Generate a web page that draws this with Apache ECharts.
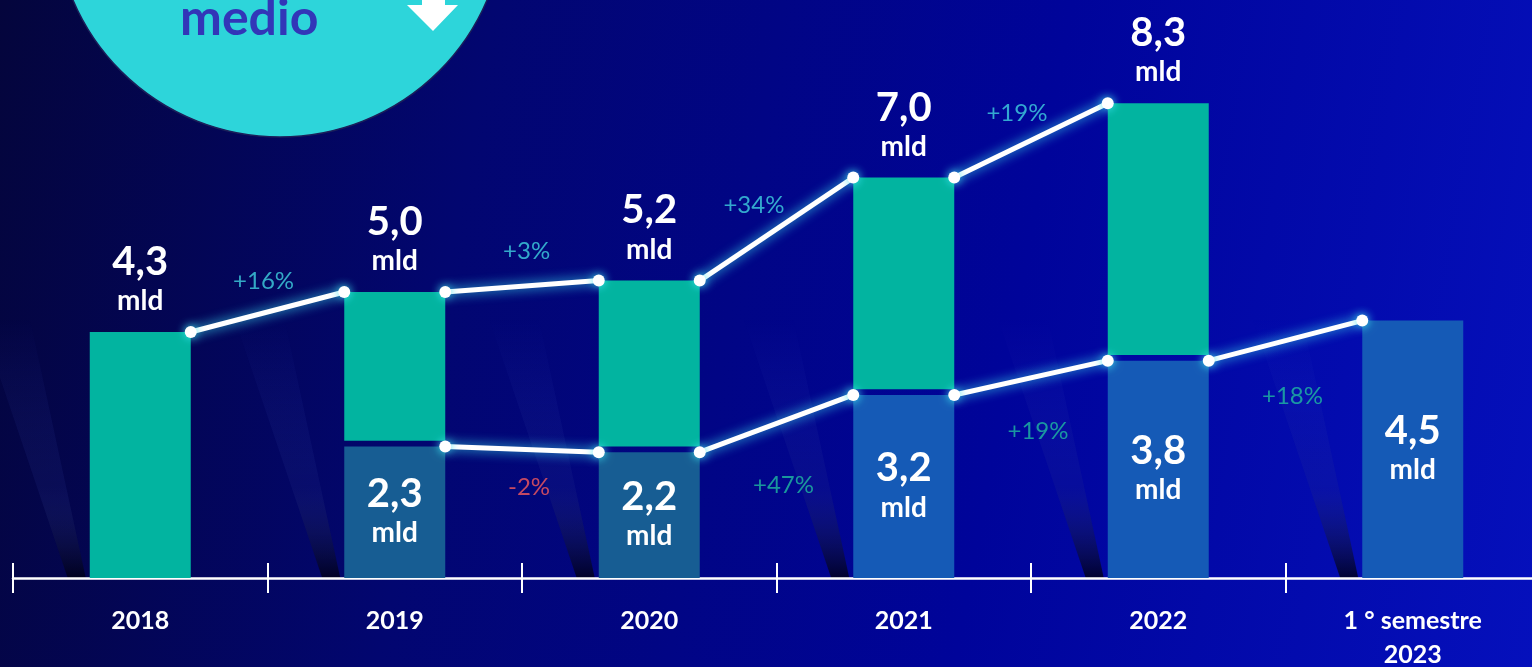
<!DOCTYPE html>
<html>
<head>
<meta charset="utf-8">
<script src="https://cdn.jsdelivr.net/npm/echarts@6/dist/echarts.min.js"></script>
<style>
  html, body { margin: 0; padding: 0; }
  #chart {
    width: 1532px; height: 667px;
    background: linear-gradient(100deg, #04053c 0%, #020670 30%, #00049a 65%, #0510bc 100%);
  }
</style>
</head>
<body>
<div id="chart"></div>
<script>
  // data
  const categories = ['2018', '2019', '2020', '2021', '2022', '1 ° semestre\n2023']
  const annualValues = [4.3, 5.0, 5.2, 7.0, 8.3, null]
  const halfYearValues = [null, 2.3, 2.2, 3.2, 3.8, 4.5]
  const annualGrowth = ['+16%', '+3%', '+34%', '+19%']
  const halfYearGrowth = ['-2%', '+47%', '+19%', '+18%']

  const W = 1532, H = 667
  const gridLeft = 13, gridRight = -8, gridTop = 6, gridBottom = 89
  const barW = 101
  const catW = (W - gridLeft - gridRight) / categories.length
  const hw = barW / 2 / catW
  const gap = 0.1
  const font = 'Lato, "Open Sans", sans-serif'

  const fmt = v => v.toFixed(1).replace('.', ',')
  const valueLabel = v => '{v|' + fmt(v) + '}\n{u|mld}'
  const richText = {
    v: { fontSize: 40, fontWeight: 'bold', color: '#fff', lineHeight: 42, fontFamily: font },
    u: { fontSize: 28, fontWeight: 'bold', color: '#fff', lineHeight: 36, fontFamily: font }
  }

  const chart = echarts.init(document.getElementById('chart'))

  // line segments between bar edges
  const segments = []
  const growthPoints = []
  function addLine(values, growth, first, upper) {
    for (let k = 0; k < growth.length; k++) {
      const i = first + k
      const a = values[i], b = values[i + 1]
      segments.push({
        type: 'line', xAxisIndex: 1, yAxisIndex: 0, z: 5,
        data: [[i + hw, a], [i + 1 - hw, b]],
        symbol: 'circle', symbolSize: 12,
        itemStyle: { color: '#fff', shadowBlur: 10, shadowColor: '#3fe6f2' },
        lineStyle: { color: '#fff', width: 5, shadowBlur: 12, shadowColor: '#38d8ec' },
        animation: false
      })
      const slope = b - a
      const neg = growth[k].charAt(0) === '-'
      growthPoints.push({
        value: [i + 0.5, (a + b) / 2],
        label: {
          show: true,
          formatter: growth[k],
          position: upper ? 'top' : 'bottom',
          distance: upper ? 20 : 28 + 22 * slope,
          offset: upper ? [8 - 17 * slope, 7 * slope - 4] : [7, 0],
          color: upper ? '#40d2e0' : (neg ? '#f65a5c' : '#1fbca0'),
          fontSize: 24,
          fontFamily: font
        }
      })
    }
  }
  addLine(annualValues, annualGrowth, 0, true)
  addLine(halfYearValues, halfYearGrowth, 1, false)

  const blueColors = ['#175d93', '#175d93', '#175d93', '#155ab6', '#155ab6', '#155ab6']

  // light beams behind bars
  const beams = categories.map((c, i) => {
    const bx = gridLeft + catW * (i + 0.5) - barW / 2
    const by = H - gridBottom
    return {
      type: 'polygon', z: -1, silent: true,
      shape: { points: [[bx - 22, by], [bx - 4, by], [bx - 60, by - 260], [bx - 110, by - 260]] },
      style: {
        fill: new echarts.graphic.LinearGradient(0, 1, 0, 0, [
          { offset: 0, color: 'rgba(0,0,20,0.8)' },
          { offset: 0.35, color: 'rgba(40,50,140,0.18)' },
          { offset: 1, color: 'rgba(80,100,220,0)' }
        ])
      }
    }
  })

  chart.setOption({
    backgroundColor: 'transparent',
    animation: false,
    grid: {
      left: gridLeft, right: gridRight, top: gridTop, bottom: gridBottom,
      containLabel: false, outerBoundsMode: 'none'
    },
    xAxis: [
      {
        type: 'category', data: categories,
        axisLine: { lineStyle: { color: '#fff', width: 2.5 } },
        axisTick: { show: true, length: 15, lineStyle: { color: '#fff', width: 2 } },
        axisLabel: {
          color: '#fff', fontWeight: 'bold', fontSize: 25, fontFamily: font,
          margin: 26, lineHeight: 34
        }
      },
      { type: 'value', min: -0.5, max: categories.length - 0.5, show: false },
      {
        type: 'category', data: categories, position: 'bottom',
        axisLine: { show: false },
        axisTick: { show: true, inside: true, length: 15, lineStyle: { color: '#fff', width: 2 } },
        axisLabel: { show: false }
      }
    ],
    yAxis: { type: 'value', min: 0, max: 10, show: false },
    graphic: [
      ...beams,
      {
        type: 'circle', z: 10, shape: { cx: 280, cy: -88, r: 225 },
        style: { fill: '#2dd5da', stroke: '#1a1f5a', lineWidth: 1.5 }
      },
      {
        type: 'text', z: 11, left: 180, top: -6,
        style: { text: 'medio', fill: '#3236b8', fontSize: 50, fontWeight: 'bold', fontFamily: font }
      },
      {
        type: 'polygon', z: 11,
        shape: { points: [[422, 0], [445, 0], [445, 5], [458, 5], [433, 31], [407, 5], [422, 5]] },
        style: { fill: '#fff' }
      }
    ],
    series: [
      {
        type: 'bar', stack: 'total', barWidth: barW, z: 3,
        data: halfYearValues.map((v, i) => v == null ? '-' : { value: v, itemStyle: { color: blueColors[i] } }),
        label: {
          show: true, position: 'inside',
          formatter: p => valueLabel(p.value),
          rich: richText
        }
      },
      {
        type: 'bar', stack: 'total', barWidth: barW, silent: true,
        data: halfYearValues.map((v, i) => (v == null || annualValues[i] == null) ? 0 : gap),
        itemStyle: { color: 'rgba(0,0,0,0)' }
      },
      {
        type: 'bar', stack: 'total', barWidth: barW, z: 3,
        data: annualValues.map((v, i) => v == null ? '-' : +(v - (halfYearValues[i] == null ? 0 : halfYearValues[i] + gap)).toFixed(2)),
        itemStyle: { color: '#02b4a0' },
        label: {
          show: true, position: 'top', distance: 13,
          formatter: p => valueLabel(annualValues[p.dataIndex]),
          rich: richText
        }
      },
      ...segments,
      {
        type: 'scatter', xAxisIndex: 1, yAxisIndex: 0, symbolSize: 0, z: 6,
        data: growthPoints
      }
    ]
  })
</script>
</body>
</html>
